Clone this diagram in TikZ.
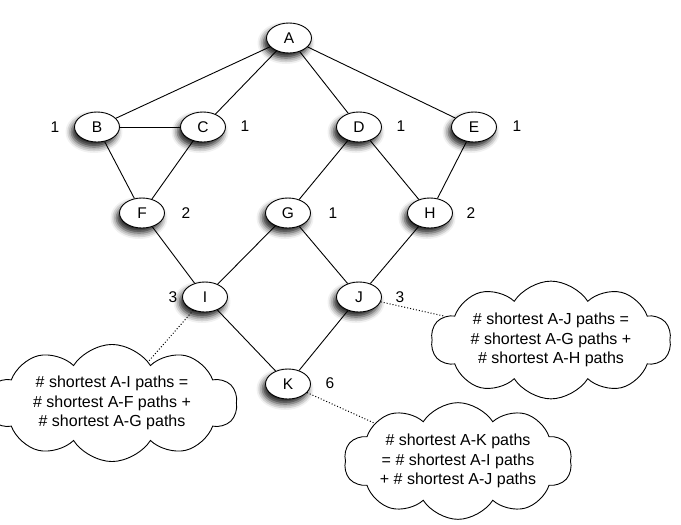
\documentclass[tikz,border=0pt]{standalone}
\usepackage{fontspec}
\setmainfont{Liberation Sans}
\usetikzlibrary{shapes.geometric,shapes.symbols,shadows.blur}
\begin{document}
\begin{tikzpicture}[x=1pt,y=-1pt,
  vnode/.style={ellipse,draw,line width=0.9pt,fill=white,minimum width=45pt,minimum height=30pt,inner sep=0pt,
    font=\fontsize{15.5}{17}\selectfont,
    blur shadow={shadow xshift=-3pt,shadow yshift=-5pt,shadow blur radius=6pt,shadow opacity=90}},
  cnt/.style={font=\fontsize{15.5}{17}\selectfont},
  edge/.style={line width=0.9pt},
  note/.style={cloud,cloud ignores aspect,draw,line width=0.9pt,cloud puffs=10,cloud puff arc=115,align=center,
    inner xsep=0pt,inner ysep=2.5pt,
    font=\fontsize{16}{19.5}\selectfont},
  link/.style={dotted,line width=1pt}]
\useasboundingbox (0,0) rectangle (681,525);
\node[vnode] (A) at (289,38) {A};
\node[vnode] (B) at (97,127) {B};
\node[vnode] (C) at (203,127) {C};
\node[vnode] (D) at (359,127) {D};
\node[vnode] (E) at (474,127) {E};
\node[vnode] (F) at (142,213) {F};
\node[vnode] (G) at (288,213) {G};
\node[vnode] (H) at (430,213) {H};
\node[vnode] (I) at (205,297) {I};
\node[vnode] (J) at (359,297) {J};
\node[vnode] (K) at (288,384) {K};
\node[cnt] (nB) at (55,127) {1};
\node[cnt] (nC) at (245,126) {1};
\node[cnt] (nD) at (401,126) {1};
\node[cnt] (nE) at (517,126) {1};
\node[cnt] (nF) at (186,213) {2};
\node[cnt] (nG) at (333,213) {1};
\node[cnt] (nH) at (471,213) {2};
\node[cnt] (nI) at (173,297) {3};
\node[cnt] (nJ) at (400,297) {3};
\node[cnt] (nK) at (330,383) {6};
\node[note,minimum width=250pt] (cI) at (112,403)
  {\# shortest A-I paths =\\ \# shortest A-F paths +\\ \# shortest A-G paths};
\node[note,minimum width=240pt] (cJ) at (551,340)
  {\# shortest A-J paths =\\ \# shortest A-G paths +\\ \# shortest A-H paths};
\node[note,minimum width=228pt] (cK) at (458,461)
  {\# shortest A-K paths\\ = \# shortest A-I paths\\ + \# shortest A-J paths};
\draw[link] (I) -- (cI);
\draw[link] (J) -- (cJ);
\draw[link] (K) -- (cK);
\foreach \a/\b in {A/B,A/C,A/D,A/E,B/C,B/F,C/F,D/G,D/H,E/H,F/I,G/I,G/J,H/J,I/K,J/K}
  \draw[edge] (\a) -- (\b);
\end{tikzpicture}
\end{document}
